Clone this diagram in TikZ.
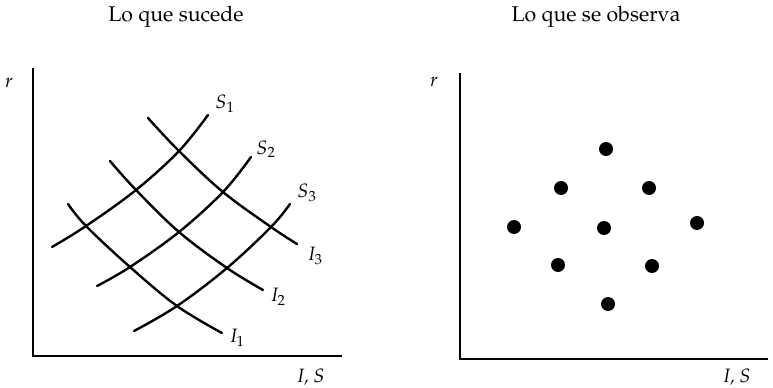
\documentclass[tikz,border=0pt]{standalone}
\usepackage[T1]{fontenc}
\usepackage{mathpazo}
\begin{document}
\begin{tikzpicture}[x=0.75pt, y=-0.75pt,
  curve/.style={line width=1.8pt, line cap=round},
  axis/.style={line width=1.2pt},
  dot/.style={circle, fill, inner sep=0pt, minimum size=10.5pt},
  lbl/.style={font=\fontsize{14.5}{16}\selectfont},
  ttl/.style={font=\fontsize{16}{19}\selectfont}]
  \useasboundingbox (0,0) rectangle (773,388);
  % left panel: what happens
  \node[ttl] (tL) at (176,17) {Lo que sucede};
  \coordinate (oL) at (33,356);
  \coordinate (yL) at (33,68);
  \coordinate (xL) at (342,356);
  \draw[axis] (yL) -- (oL) -- (xL);
  \node[lbl] (rL) at (9,83) {$r$};
  \node[lbl] (isL) at (311,377) {\textit{I, S}};
  % crossings: aij = S_i with I_j
  \coordinate (a11) at (86,226);
  \coordinate (a12) at (136,190);
  \coordinate (a13) at (179,151);
  \coordinate (a21) at (130,267);
  \coordinate (a22) at (179,232);
  \coordinate (a23) at (223,192);
  \coordinate (a31) at (177,306);
  \coordinate (a32) at (227,268);
  \coordinate (a33) at (271,227);
  % savings curves
  \draw[curve] plot[smooth, tension=0.6] coordinates {(52,247) (a11) (a12) (a13) (208,115)};
  \draw[curve] plot[smooth, tension=0.6] coordinates {(97,286) (a21) (a22) (a23) (251,157)};
  \draw[curve] plot[smooth, tension=0.6] coordinates {(134,331) (a31) (a32) (a33) (290,204)};
  % investment curves
  \draw[curve] plot[smooth, tension=0.6] coordinates {(68,204) (a11) (a21) (a31) (222,333)};
  \draw[curve] plot[smooth, tension=0.6] coordinates {(110,161) (a12) (a22) (a32) (263,290)};
  \draw[curve] plot[smooth, tension=0.6] coordinates {(148,118) (a13) (a23) (a33) (297,244)};
  \node[lbl] (s1) at (225,104) {$S_1$};
  \node[lbl] (s2) at (266,149) {$S_2$};
  \node[lbl] (s3) at (307,193) {$S_3$};
  \node[lbl] (i1) at (237,338) {$I_1$};
  \node[lbl] (i2) at (278,297) {$I_2$};
  \node[lbl] (i3) at (315,256) {$I_3$};
  % right panel: what is observed
  \node[ttl] (tR) at (596,17) {Lo que se observa};
  \coordinate (oR) at (460,359);
  \coordinate (yR) at (460,73);
  \coordinate (xR) at (768,359);
  \draw[axis] (yR) -- (oR) -- (xR);
  \node[lbl] (rR) at (434,82) {$r$};
  \node[lbl] (isR) at (737,377) {\textit{I, S}};
  \node[dot] (p1) at (606,149) {};
  \node[dot] (p2) at (561,188) {};
  \node[dot] (p3) at (649,188) {};
  \node[dot] (p4) at (514,227) {};
  \node[dot] (p5) at (604,228) {};
  \node[dot] (p6) at (697,223) {};
  \node[dot] (p7) at (558,265) {};
  \node[dot] (p8) at (652,266) {};
  \node[dot] (p9) at (608,304) {};
\end{tikzpicture}
\end{document}
